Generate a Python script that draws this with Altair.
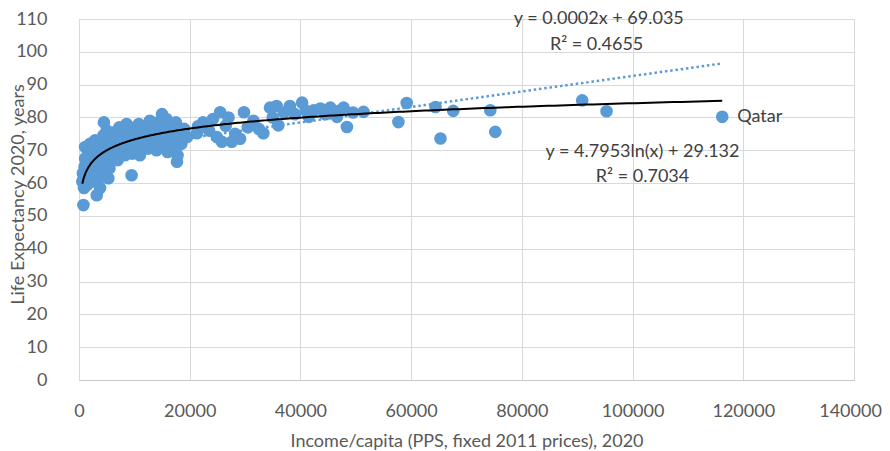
import altair as alt
import pandas as pd
import numpy as np

# ---- data ----
income = [600, 700, 800, 900, 900, 1000, 1100, 1100, 1500, 1600, 1700, 1800, 2000,
          2300, 2400, 2500, 2700, 2900, 3200, 3300, 3400, 3500, 3700, 3800, 4000,
          4200, 4300, 4400, 4500, 4700, 4800, 5000, 5300, 5500, 5600, 5800, 6000,
          6300, 6600, 7000, 7200, 7300, 7600, 8000, 8300, 8600, 8800, 9000, 9500,
          9600, 9800, 10200, 10500, 10800, 11000, 11400, 11800, 12200, 12500, 12800,
          13000, 13400, 13700, 14000, 14300, 14600, 15000, 15200, 15500, 15800, 16000,
          16300, 16600, 17000, 17200, 17500, 17700, 17800, 18200, 18500, 19000, 19500,
          21300, 21500, 22400, 23500, 24200, 24900, 25500, 25800, 26500, 27000, 27600,
          28200, 29100, 29800, 30500, 31500, 32500, 33300, 34500, 35000, 35700, 36000,
          37000, 38100, 39000, 40300, 41000, 41500, 42400, 43600, 44500, 45400, 46600,
          47000, 47800, 48400, 49500, 51400,
          57700, 59200, 64400, 65300, 67600, 74300, 75200, 90900, 95300, 116200]
life = [60.5, 63, 53.3, 58.5, 61.5, 65, 67.5, 71, 59.5, 63, 66, 69, 72,
        60.5, 64, 67, 70, 73, 56.3, 61, 63.5, 66.5, 69, 58.5, 71.5,
        62, 65, 74.5, 78.5, 68, 71, 76, 61.5, 64.5, 73.5, 67.5, 70.5,
        75.5, 73, 67, 69.5, 77, 74.5, 71.5, 68.5, 78, 75.5, 72.5, 62.4,
        69, 76.5, 73.5, 70.5, 78, 68.5, 75, 72, 77, 70.5, 79,
        74, 72, 76.5, 70, 78.5, 74.5, 81, 72.5, 77, 79.5, 69.5,
        75.5, 73, 77.5, 70.5, 78.5, 66.5, 68.5, 75, 72, 76.5, 74,
        75.2, 77.3, 78.5, 76, 79.5, 74, 81.6, 72.6, 77.5, 80, 72.6,
        75, 73.5, 81.6, 77, 79, 76.5, 75.2, 83, 80, 83.5, 77.6,
        81.5, 83.5, 81, 84.5, 82, 80.2, 82.2, 82.7, 81, 83, 80.2,
        82, 83, 77.1, 81.5, 81.7,
        78.6, 84.4, 83.2, 73.6, 82, 82.2, 75.6, 85.2, 81.9, 80.2]
country = [""] * (len(income) - 1) + ["Qatar"]

# trend line coefficients (log as printed; linear slope unrounded from picture)
lin_slope, lin_intercept = 0.000236, 69.035
log_coef, log_intercept = 4.7953, 29.132
trend_start, trend_end = 600, 116200

annot_text = ["y = 0.0002x + 69.035", "R\u00b2 = 0.4655",
              "y = 4.7953ln(x) + 29.132", "R\u00b2 = 0.7034"]
annot_x = [93900, 93500, 101800, 101800]
annot_y = [109.9, 102.0, 69.6, 61.9]

x_ticks = [0, 20000, 40000, 60000, 80000, 100000, 120000, 140000]
y_ticks = [0, 10, 20, 30, 40, 50, 60, 70, 80, 90, 100, 110]

FONT = "Lato"
BLUE = "#5B9BD5"
GREY_TXT = "#595959"

pts = pd.DataFrame({"income": income, "life": life, "country": country})
trend = pd.DataFrame({"income": np.geomspace(trend_start, trend_end, 400)})
ann = pd.DataFrame({"t": annot_text, "x": annot_x, "y": annot_y})

xs = alt.Scale(domain=[0, 140000], nice=False, zero=False)
ys = alt.Scale(domain=[0, 110], nice=False, zero=False)

X_TITLE = "Income/capita (PPS, fixed 2011 prices), 2020"
Y_TITLE = "Life Expectancy 2020, years"

x_axis = alt.Axis(values=x_ticks, format="d", title=X_TITLE,
                  grid=True, gridColor="#D9D9D9", ticks=False, domain=True, domainColor="#C8C8C8",
                  labelFlush=False, labelOverlap=False,
                  labelOffset=alt.condition("datum.value == 140000", alt.value(-4), alt.value(0)),
                  labelPadding=22, titlePadding=12, labelFont=FONT, titleFont=FONT,
                  labelFontSize=18, titleFontSize=18, labelColor=GREY_TXT, titleColor=GREY_TXT,
                  titleFontWeight="normal")
y_axis = alt.Axis(values=y_ticks, title=Y_TITLE,
                  grid=True, gridColor="#D9D9D9", ticks=False, domain=False,
                  labelFlush=False, labelOverlap=False,
                  labelPadding=32, labelFont=FONT, titleFont=FONT,
                  titleX=-61, titleY=175, titleBaseline="middle", titleAngle=270,
                  labelFontSize=18, titleFontSize=18, labelColor=GREY_TXT, titleColor=GREY_TXT,
                  titleFontWeight="normal")


def X(field):
    return alt.X(field, type="quantitative", scale=xs, axis=x_axis, title=X_TITLE)


def Y(field):
    return alt.Y(field, type="quantitative", scale=ys, axis=y_axis, title=Y_TITLE)


points = alt.Chart(pts).mark_circle(size=160, color=BLUE, opacity=1).encode(
    x=X("income"), y=Y("life"))

lin = alt.Chart(trend).transform_calculate(
    y=f"{lin_slope}*datum.income + {lin_intercept}"
).mark_line(color=BLUE, strokeWidth=2.5, strokeDash=[2.5, 2.8]).encode(
    x=X("income"), y=Y("y"))

logl = alt.Chart(trend).transform_calculate(
    y=f"{log_coef}*log(datum.income) + {log_intercept}"
).mark_line(color="#000000", strokeWidth=2).encode(
    x=X("income"), y=Y("y"))

qatar = alt.Chart(pts).transform_filter("datum.country != ''").mark_text(
    align="left", baseline="middle", dx=15, font=FONT, fontSize=18, color="#404040"
).encode(x=X("income"), y=Y("life"), text="country:N")

annot = alt.Chart(ann).mark_text(
    align="center", baseline="middle", font=FONT, fontSize=18, color="#404040", clip=False
).encode(x=X("x"), y=Y("y"), text="t:N")

chart = alt.layer(points, lin, logl, qatar, annot).properties(
    width=775, height=361,
    padding={"left": 71, "top": 11, "right": 28, "bottom": 72},
    autosize=alt.AutoSizeParams(type="none"),
).configure_view(stroke=None).configure(background="white")

chart.save("out.html", embed_options={"renderer": "svg", "actions": False})
